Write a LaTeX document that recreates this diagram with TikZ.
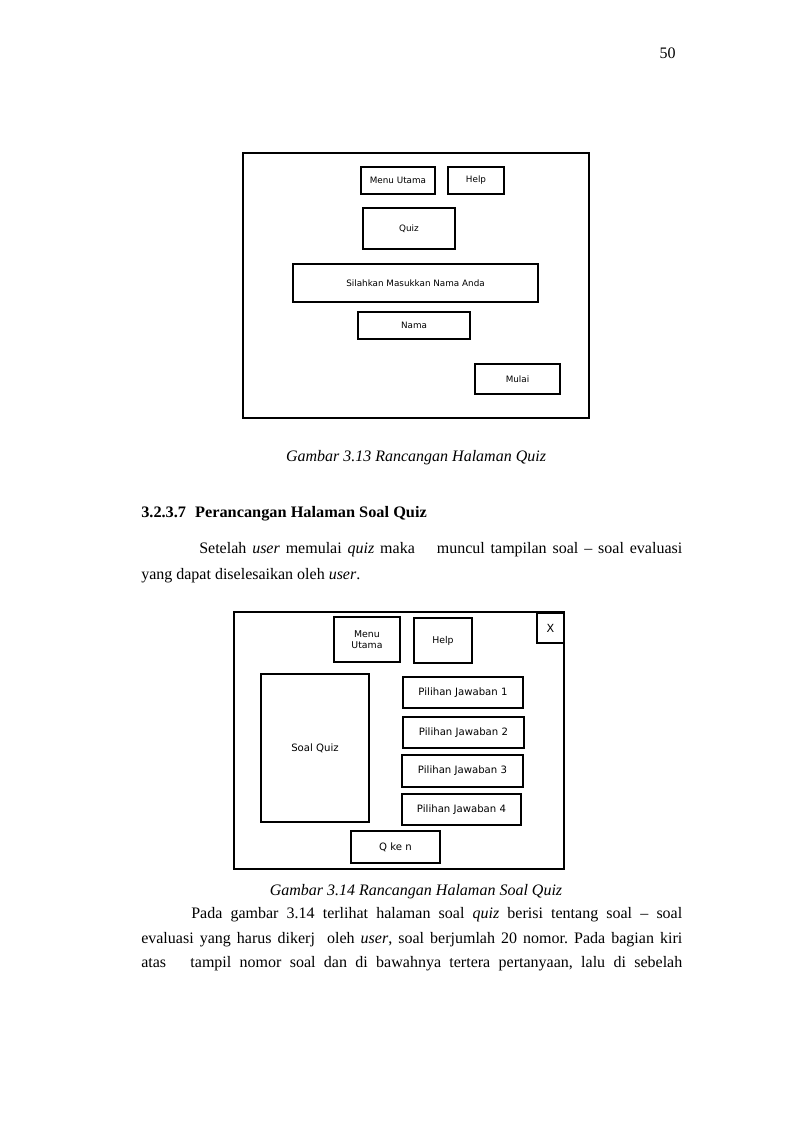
\documentclass[tikz,border=0pt]{standalone}
\usepackage{graphicx}
\usepackage{fontspec}
\setmainfont{Liberation Serif}
\newfontfamily\uifont{DejaVu Sans}
\frenchspacing

\tikzset{
  box/.style={draw, line width=0.8pt, inner sep=0pt, align=center},
  wd/.style={minimum width=#1*0.75pt},
  ht/.style={minimum height=#1*0.75pt},
  small/.style={font=\uifont\fontsize{6.6}{7.6}\selectfont},
  mid/.style={font=\uifont\fontsize{7.6}{8.6}\selectfont},
  body/.style={anchor=base west, inner sep=0pt, font=\fontsize{12}{14}\selectfont},
  caption/.style={anchor=base, inner sep=0pt, font=\fontsize{12}{14}\selectfont\itshape}
}

\begin{document}
\begin{tikzpicture}[x=0.75pt,y=-0.75pt]

      \useasboundingbox (0,0) rectangle (794,1123);

      \node[body, anchor=base east] (pagenum) at (676,59) {50};

      \node[box, wd=346, ht=265] (frameA) at (416,285.5) {};
      \node[box, small, wd=74, ht=27] (menuA) at (398,180.5) {Menu Utama};
      \node[box, small, wd=56, ht=27] (helpA) at (476,180.5) {Help};
      \node[box, small, wd=92, ht=41] (quiz) at (409,228.5) {Quiz};
      \node[box, small, wd=245, ht=38] (prompt) at (415.5,283) {Silahkan Masukkan Nama Anda};
      \node[box, small, wd=112, ht=27] (nama) at (414,325.5) {Nama};
      \node[box, small, wd=85, ht=30] (mulai) at (517.5,379) {Mulai};

      \node[caption] (capA) at (416,461) {Gambar 3.13 Rancangan Halaman Quiz};

      \node[body] (heading) at (141,517)
        {\scalebox{1.02}[1]{\bfseries 3.2.3.7\hspace{0.55em}Perancangan Halaman Soal Quiz}};
      \node[body] (lineA) at (199,553)
        {\makebox[362.25pt][s]{Setelah \emph{user} memulai \emph{quiz} maka \quad muncul tampilan soal -- soal evaluasi}};
      \node[body] (lineB) at (141,579) {yang dapat diselesaikan oleh \emph{user}.};

      \node[box, wd=330, ht=257] (frameB) at (399,740.5) {};
      \node[box, font=\uifont\fontsize{8.4}{9}\selectfont, wd=27, ht=30] (close) at (550.5,628) {X};
      \node[box, font=\uifont\fontsize{7}{8}\selectfont, wd=66, ht=45] (menuB) at (367,639.5) {Menu\\Utama};
      \node[box, font=\uifont\fontsize{7}{8}\selectfont, wd=58, ht=45] (helpB) at (443,640.5) {Help};
      \node[box, mid, wd=108, ht=148] (soal) at (315,748) {Soal Quiz};
      \node[box, mid, wd=120, ht=31] (pilA) at (463,692.5) {Pilihan Jawaban 1};
      \node[box, mid, wd=121, ht=31] (pilB) at (463.5,732.5) {Pilihan Jawaban 2};
      \node[box, mid, wd=121, ht=32] (pilC) at (462.5,771) {Pilihan Jawaban 3};
      \node[box, mid, wd=119, ht=31] (pilD) at (461.5,809.5) {Pilihan Jawaban 4};
      \node[box, mid, wd=89, ht=32] (qken) at (395.5,847) {Q ke n};

      \node[caption] (capB) at (416,895) {Gambar 3.14 Rancangan Halaman Soal Quiz};

      \node[body] (lineC) at (191,918)
        {\makebox[368.25pt][s]{Pada gambar 3.14 terlihat halaman soal \emph{quiz} berisi tentang soal -- soal}};
      \node[body] (lineD) at (141,943)
        {\makebox[405.75pt][s]{evaluasi yang harus dikerj\ \ oleh \emph{user}, soal berjumlah 20 nomor. Pada bagian kiri}};
      \node[body] (lineE) at (141,967)
        {\makebox[405.75pt][s]{atas \quad tampil nomor soal dan di bawahnya tertera pertanyaan, lalu di sebelah}};

    \end{tikzpicture}
\end{document}
